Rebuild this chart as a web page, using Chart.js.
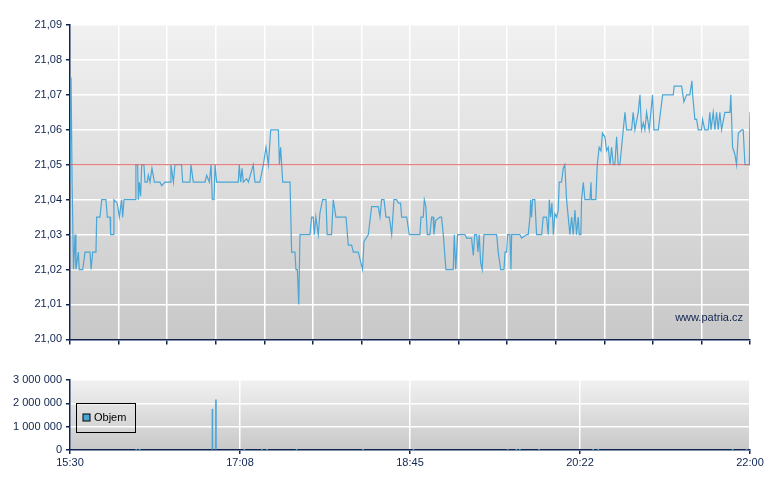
<!DOCTYPE html>
<html><head><meta charset="utf-8">
<script src="https://cdn.jsdelivr.net/npm/chart.js@4"></script>
<style>body{margin:0;background:#fff;width:780px;height:490px;overflow:hidden;position:relative}
#a{position:absolute;left:0;top:0;width:780px;height:350px}#b{position:absolute;left:0;top:360px;width:780px;height:130px}</style>
</head><body>
<div id="a"><canvas id="c1" width="780" height="350"></canvas></div><div id="b"><canvas id="c2" width="780" height="130"></canvas></div>
<script>
// minutes since 15:30
const priceTimes=[0,0.6,1.2,2.0,2.9,3.4,4.8,5.3,7.3,8.6,11.5,12.1,13.0,14.9,15.3,17.2,18.2,20.6,21.4,23.0,23.3,24.8,25.2,27.1,28.3,29.6,30.2,31.0,34.4,37.3,37.8,38.8,39.2,39.8,40.5,41.1,42.4,43.0,44.3,44.9,45.9,47.0,48.4,51.6,52.6,54.5,57.4,57.9,59.3,60.2,64.0,64.6,68.8,69.4,70.7,77.4,78.4,79.9,80.9,81.6,82.6,83.2,84.1,96.5,97.1,97.9,98.7,99.4,101.3,102.3,105.1,106.1,108.9,110.9,112.4,113.8,115.1,119.5,120.1,120.8,122.0,126.2,127.1,129.0,129.6,130.4,131.2,131.9,134.7,137.6,138.6,139.5,140.1,141.0,142.4,143.3,144.9,146.8,147.5,150.0,151.0,152.5,158.3,159.6,161.5,162.5,165.3,167.8,168.6,171.1,173.0,176.8,177.8,178.7,180.1,181.2,183.1,184.5,185.8,187.3,188.3,189.6,190.2,193.1,194.6,200.7,201.3,202.6,203.2,204.1,204.9,206.4,207.4,208.3,208.7,209.7,212.2,213.1,214.1,215.6,219.8,220.4,221.2,222.3,226.5,227.5,230.3,231.3,232.1,233.2,234.0,234.7,235.5,236.4,237.4,244.7,245.6,247.0,248.9,249.5,250.4,251.0,252.3,252.9,253.3,258.0,259.0,261.9,262.8,263.8,264.2,264.7,265.3,266.6,267.6,270.5,271.4,273.3,274.3,274.9,275.6,276.4,277.2,278.1,279.1,280.0,280.6,281.9,282.9,283.8,284.8,286.7,287.7,288.6,289.6,290.5,291.5,292.1,293.0,293.4,294.4,295.3,298.2,298.8,299.1,301.6,302.4,303.5,304.5,305.4,306.8,307.7,308.7,309.7,310.6,311.6,312.5,313.5,314.4,315.4,317.3,318.3,319.2,322.1,323.0,324.0,325.9,326.9,327.8,328.8,329.7,330.7,332.2,334.1,334.9,337.4,339.9,346.0,346.5,350.8,352.1,353.6,355.5,356.7,357.1,358.4,359.4,360.3,362.2,362.8,364.1,366.0,367.0,367.6,368.9,369.9,370.8,371.8,372.7,373.7,375.6,378.5,379.0,380.0,381.3,382.3,383.3,385.2,386.1,387.1,389.6,390];
const priceValues=[21.045,21.075,21.045,21.02,21.03,21.02,21.025,21.02,21.02,21.025,21.025,21.02,21.025,21.025,21.035,21.035,21.04,21.04,21.035,21.035,21.03,21.03,21.04,21.039,21.035,21.04,21.035,21.04,21.04,21.04,21.05,21.05,21.04,21.045,21.041,21.05,21.05,21.045,21.045,21.047,21.045,21.049,21.045,21.045,21.044,21.045,21.045,21.05,21.045,21.05,21.05,21.045,21.045,21.05,21.045,21.045,21.047,21.045,21.05,21.04,21.04,21.05,21.045,21.045,21.05,21.045,21.049,21.045,21.046,21.045,21.05,21.045,21.045,21.05,21.055,21.05,21.06,21.06,21.05,21.055,21.045,21.045,21.025,21.025,21.02,21.02,21.01,21.03,21.03,21.03,21.035,21.035,21.03,21.035,21.03,21.036,21.04,21.04,21.03,21.03,21.04,21.035,21.035,21.027,21.027,21.025,21.025,21.02,21.028,21.03,21.038,21.038,21.035,21.04,21.04,21.035,21.035,21.03,21.04,21.04,21.039,21.039,21.035,21.035,21.03,21.03,21.035,21.035,21.04,21.038,21.03,21.03,21.035,21.035,21.03,21.034,21.035,21.035,21.03,21.02,21.02,21.03,21.02,21.03,21.03,21.029,21.029,21.024,21.03,21.03,21.025,21.03,21.022,21.02,21.03,21.03,21.025,21.02,21.02,21.025,21.025,21.03,21.03,21.02,21.03,21.03,21.029,21.03,21.03,21.035,21.04,21.035,21.04,21.04,21.03,21.03,21.035,21.035,21.03,21.04,21.035,21.039,21.03,21.036,21.035,21.037,21.045,21.045,21.049,21.05,21.04,21.03,21.035,21.03,21.037,21.03,21.035,21.03,21.03,21.04,21.045,21.04,21.04,21.045,21.04,21.04,21.05,21.055,21.054,21.059,21.058,21.054,21.055,21.05,21.055,21.05,21.05,21.058,21.05,21.05,21.06,21.065,21.06,21.06,21.065,21.06,21.065,21.07,21.06,21.062,21.06,21.065,21.06,21.07,21.06,21.06,21.07,21.07,21.0725,21.0725,21.068,21.07,21.07,21.074,21.07,21.063,21.063,21.06,21.06,21.063,21.06,21.06,21.065,21.06,21.065,21.06,21.065,21.06,21.065,21.06,21.065,21.065,21.07,21.055,21.053,21.05,21.059,21.06,21.06,21.05,21.05,21.065];
const refLevel=21.05;
const volTimes=[38,40,81.7,83.7,100,110,113,130,168,197,251,256,258,269,300,303,380,388];
const volValues=[20000,15000,1750000,2150000,15000,20000,15000,10000,10000,10000,20000,15000,10000,10000,15000,10000,10000,20000];
const timeLabels=["15:30","17:08","18:45","20:22","22:00"];
const navy='#0f2350';
const bgPlugin={id:'bg',beforeDraw(c){const a=c.chartArea,x=c.ctx;const g=x.createLinearGradient(0,a.top,0,a.bottom);g.addColorStop(0,'#f1f1f1');g.addColorStop(1,'#c8c8c8');x.save();x.fillStyle=g;x.fillRect(a.left,a.top,a.right-a.left,a.bottom-a.top);x.restore();}};
const font={family:'Liberation Sans, Arial',size:11};
new Chart(document.getElementById('c1'),{type:'line',
data:{datasets:[{data:[{x:0,y:refLevel},{x:390,y:refLevel}],borderColor:'#d96060',borderWidth:1,pointRadius:0},
{data:priceTimes.map((t,i)=>({x:t,y:priceValues[i]})),borderColor:'#4aa6d6',borderWidth:1.2,pointRadius:0,tension:0}]},
options:{responsive:false,animation:false,layout:{padding:{top:25,right:30,left:0,bottom:0}},
plugins:{legend:{display:false},tooltip:{enabled:false}},
scales:{x:{type:'linear',min:0,max:390,afterBuildTicks(s){s.ticks=[];for(let i=0;i<=14;i++)s.ticks.push({value:i*390/14});},
ticks:{display:false},grid:{color:'#ffffff',lineWidth:1.5,tickColor:navy,tickLength:5,drawOnChartArea:true},border:{color:navy,width:1.5},afterFit(s){s.height=5;}},
y:{min:21,max:21.09,afterBuildTicks(s){s.ticks=[];for(let i=0;i<=9;i++)s.ticks.push({value:21+i*0.01});},afterFit(s){s.width=70;},
ticks:{color:navy,font,padding:4,callback:v=>v.toFixed(2).replace('.',',')},grid:{color:'#ffffff',lineWidth:1.5,tickLength:4,tickColor:navy},border:{color:navy,width:1.5}}}},
plugins:[bgPlugin,{id:'wm',afterDatasetsDraw(c){const x=c.ctx;x.save();x.font='11px Liberation Sans, Arial';x.fillStyle=navy;x.textAlign='right';x.fillText('www.patria.cz',c.chartArea.right-7,c.chartArea.bottom-18);x.restore();}}]});
new Chart(document.getElementById('c2'),{type:'bar',
data:{datasets:[{data:volTimes.map((t,i)=>({x:t,y:volValues[i]})),backgroundColor:'#4aa6d6',barThickness:1}]},
options:{responsive:false,animation:false,layout:{padding:{top:20,right:30,left:0,bottom:0}},
plugins:{legend:{display:false},tooltip:{enabled:false}},
scales:{x:{type:'linear',min:0,max:390,offset:false,afterBuildTicks(s){s.ticks=[];for(let i=0;i<=4;i++)s.ticks.push({value:i*97.5});},
ticks:{color:navy,font,maxRotation:0,padding:2,callback:(v,i)=>timeLabels[i]},grid:{color:'#ffffff',lineWidth:1.5,tickColor:navy,tickLength:4,offset:false},border:{color:navy,width:1.5},afterFit(s){s.height=40;}},
y:{min:0,max:3000000,afterBuildTicks(s){s.ticks=[];for(let i=0;i<=3;i++)s.ticks.push({value:i*1000000});},afterFit(s){s.width=70;},
ticks:{color:navy,font,padding:4,callback:v=>v.toString().replace(/\B(?=(\d{3})+(?!\d))/g,' ')},grid:{color:'#ffffff',lineWidth:1.5,tickLength:4,tickColor:navy},border:{color:navy,width:1.5}}}},
plugins:[bgPlugin,{id:'lg',afterDraw(c){const x=c.ctx;x.save();x.strokeStyle='#000';x.lineWidth=1;x.strokeRect(76.5,43.5,59,29);x.fillStyle='#4aa6d6';x.fillRect(83,54,7,7);x.strokeStyle='#000';x.strokeRect(83,54,7,7);x.fillStyle='#000';x.font='11px Liberation Sans, Arial';x.textBaseline='middle';x.fillText('Objem',94,58);x.restore();}}]});
</script></body></html>
